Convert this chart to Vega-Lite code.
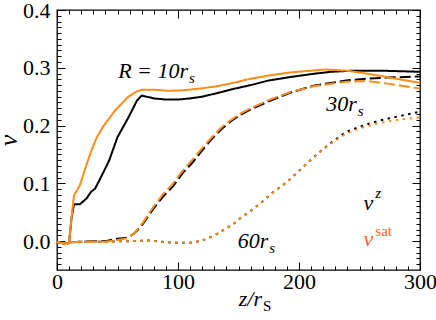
{
  "$schema": "https://vega.github.io/schema/vega-lite/v6.json",
  "width": 363,
  "height": 260,
  "autosize": {"type": "none"},
  "background": "white",
  "padding": {"left": 57, "top": 10, "right": 16, "bottom": 50},
  "config": {
    "view": {"stroke": "#000000", "strokeWidth": 1.3, "fill": "transparent"}
  },
  "datasets": {
    "curves": [
      {"R":10,"comp":"vz","z":0,"v":-0.002},{"R":10,"comp":"vz","z":5,"v":-0.003},{"R":10,"comp":"vz","z":8,"v":-0.005},{"R":10,"comp":"vz","z":10,"v":-0.003},{"R":10,"comp":"vz","z":12,"v":0.04},{"R":10,"comp":"vz","z":14,"v":0.064},{"R":10,"comp":"vz","z":19,"v":0.064},{"R":10,"comp":"vz","z":24.5,"v":0.074},{"R":10,"comp":"vz","z":28,"v":0.085},{"R":10,"comp":"vz","z":31.5,"v":0.091},{"R":10,"comp":"vz","z":35,"v":0.105},{"R":10,"comp":"vz","z":43,"v":0.139},{"R":10,"comp":"vz","z":50,"v":0.18},{"R":10,"comp":"vz","z":59,"v":0.214},{"R":10,"comp":"vz","z":66,"v":0.243},{"R":10,"comp":"vz","z":70,"v":0.252},{"R":10,"comp":"vz","z":74,"v":0.25},{"R":10,"comp":"vz","z":80,"v":0.247},{"R":10,"comp":"vz","z":90,"v":0.245},{"R":10,"comp":"vz","z":100,"v":0.245},{"R":10,"comp":"vz","z":110,"v":0.247},{"R":10,"comp":"vz","z":120,"v":0.25},{"R":10,"comp":"vz","z":132,"v":0.256},{"R":10,"comp":"vz","z":145,"v":0.263},{"R":10,"comp":"vz","z":160,"v":0.27},{"R":10,"comp":"vz","z":175,"v":0.278},{"R":10,"comp":"vz","z":193,"v":0.284},{"R":10,"comp":"vz","z":210,"v":0.289},{"R":10,"comp":"vz","z":226,"v":0.293},{"R":10,"comp":"vz","z":245,"v":0.295},{"R":10,"comp":"vz","z":267,"v":0.295},{"R":10,"comp":"vz","z":285,"v":0.294},{"R":10,"comp":"vz","z":300,"v":0.293},
      {"R":10,"comp":"vsat","z":0,"v":-0.002},{"R":10,"comp":"vsat","z":5,"v":-0.003},{"R":10,"comp":"vsat","z":8,"v":-0.005},{"R":10,"comp":"vsat","z":10,"v":-0.003},{"R":10,"comp":"vsat","z":12,"v":0.04},{"R":10,"comp":"vsat","z":14,"v":0.079},{"R":10,"comp":"vsat","z":19,"v":0.097},{"R":10,"comp":"vsat","z":24,"v":0.13},{"R":10,"comp":"vsat","z":29,"v":0.16},{"R":10,"comp":"vsat","z":33,"v":0.18},{"R":10,"comp":"vsat","z":38,"v":0.198},{"R":10,"comp":"vsat","z":48,"v":0.226},{"R":10,"comp":"vsat","z":59,"v":0.25},{"R":10,"comp":"vsat","z":65,"v":0.258},{"R":10,"comp":"vsat","z":70,"v":0.262},{"R":10,"comp":"vsat","z":81,"v":0.262},{"R":10,"comp":"vsat","z":92,"v":0.26},{"R":10,"comp":"vsat","z":104,"v":0.261},{"R":10,"comp":"vsat","z":118,"v":0.264},{"R":10,"comp":"vsat","z":132,"v":0.268},{"R":10,"comp":"vsat","z":146,"v":0.274},{"R":10,"comp":"vsat","z":160,"v":0.281},{"R":10,"comp":"vsat","z":176,"v":0.287},{"R":10,"comp":"vsat","z":193,"v":0.292},{"R":10,"comp":"vsat","z":210,"v":0.295},{"R":10,"comp":"vsat","z":222,"v":0.297},{"R":10,"comp":"vsat","z":239,"v":0.295},{"R":10,"comp":"vsat","z":253,"v":0.291},{"R":10,"comp":"vsat","z":267,"v":0.286},{"R":10,"comp":"vsat","z":283,"v":0.28},{"R":10,"comp":"vsat","z":300,"v":0.274},
      {"R":30,"comp":"vz","z":0,"v":-0.002},{"R":30,"comp":"vz","z":8,"v":-0.005},{"R":30,"comp":"vz","z":10,"v":-0.002},{"R":30,"comp":"vz","z":20,"v":-0.001},{"R":30,"comp":"vz","z":40,"v":0.0},{"R":30,"comp":"vz","z":50,"v":0.004},{"R":30,"comp":"vz","z":58,"v":0.006},{"R":30,"comp":"vz","z":63,"v":0.012},{"R":30,"comp":"vz","z":67,"v":0.02},{"R":30,"comp":"vz","z":71,"v":0.03},{"R":30,"comp":"vz","z":76,"v":0.045},{"R":30,"comp":"vz","z":80,"v":0.057},{"R":30,"comp":"vz","z":88,"v":0.078},{"R":30,"comp":"vz","z":96,"v":0.095},{"R":30,"comp":"vz","z":104,"v":0.118},{"R":30,"comp":"vz","z":112,"v":0.136},{"R":30,"comp":"vz","z":120,"v":0.157},{"R":30,"comp":"vz","z":128,"v":0.177},{"R":30,"comp":"vz","z":136,"v":0.194},{"R":30,"comp":"vz","z":144,"v":0.208},{"R":30,"comp":"vz","z":152,"v":0.219},{"R":30,"comp":"vz","z":160,"v":0.228},{"R":30,"comp":"vz","z":176,"v":0.243},{"R":30,"comp":"vz","z":193,"v":0.257},{"R":30,"comp":"vz","z":212,"v":0.269},{"R":30,"comp":"vz","z":239,"v":0.278},{"R":30,"comp":"vz","z":256,"v":0.281},{"R":30,"comp":"vz","z":272,"v":0.283},{"R":30,"comp":"vz","z":300,"v":0.285},
      {"R":30,"comp":"vsat","z":0,"v":-0.002},{"R":30,"comp":"vsat","z":8,"v":-0.005},{"R":30,"comp":"vsat","z":10,"v":-0.002},{"R":30,"comp":"vsat","z":20,"v":-0.001},{"R":30,"comp":"vsat","z":40,"v":-0.001},{"R":30,"comp":"vsat","z":50,"v":0.002},{"R":30,"comp":"vsat","z":58,"v":0.005},{"R":30,"comp":"vsat","z":63,"v":0.012},{"R":30,"comp":"vsat","z":67,"v":0.021},{"R":30,"comp":"vsat","z":71,"v":0.032},{"R":30,"comp":"vsat","z":76,"v":0.048},{"R":30,"comp":"vsat","z":80,"v":0.06},{"R":30,"comp":"vsat","z":88,"v":0.082},{"R":30,"comp":"vsat","z":96,"v":0.1},{"R":30,"comp":"vsat","z":104,"v":0.122},{"R":30,"comp":"vsat","z":112,"v":0.141},{"R":30,"comp":"vsat","z":120,"v":0.161},{"R":30,"comp":"vsat","z":128,"v":0.18},{"R":30,"comp":"vsat","z":136,"v":0.197},{"R":30,"comp":"vsat","z":144,"v":0.21},{"R":30,"comp":"vsat","z":152,"v":0.221},{"R":30,"comp":"vsat","z":160,"v":0.23},{"R":30,"comp":"vsat","z":176,"v":0.245},{"R":30,"comp":"vsat","z":193,"v":0.258},{"R":30,"comp":"vsat","z":212,"v":0.268},{"R":30,"comp":"vsat","z":239,"v":0.276},{"R":30,"comp":"vsat","z":256,"v":0.277},{"R":30,"comp":"vsat","z":272,"v":0.273},{"R":30,"comp":"vsat","z":300,"v":0.264},
      {"R":60,"comp":"vz","z":0,"v":-0.002},{"R":60,"comp":"vz","z":8,"v":-0.005},{"R":60,"comp":"vz","z":10,"v":-0.002},{"R":60,"comp":"vz","z":20,"v":-0.001},{"R":60,"comp":"vz","z":40,"v":-0.001},{"R":60,"comp":"vz","z":60,"v":0.0},{"R":60,"comp":"vz","z":77,"v":0.001},{"R":60,"comp":"vz","z":90,"v":-0.002},{"R":60,"comp":"vz","z":100,"v":-0.003},{"R":60,"comp":"vz","z":110,"v":-0.003},{"R":60,"comp":"vz","z":118,"v":0.0},{"R":60,"comp":"vz","z":124,"v":0.004},{"R":60,"comp":"vz","z":132,"v":0.012},{"R":60,"comp":"vz","z":139,"v":0.021},{"R":60,"comp":"vz","z":146,"v":0.03},{"R":60,"comp":"vz","z":151,"v":0.039},{"R":60,"comp":"vz","z":160,"v":0.052},{"R":60,"comp":"vz","z":170,"v":0.069},{"R":60,"comp":"vz","z":180,"v":0.087},{"R":60,"comp":"vz","z":190,"v":0.102},{"R":60,"comp":"vz","z":206,"v":0.133},{"R":60,"comp":"vz","z":212,"v":0.145},{"R":60,"comp":"vz","z":225,"v":0.168},{"R":60,"comp":"vz","z":239,"v":0.189},{"R":60,"comp":"vz","z":253,"v":0.2},{"R":60,"comp":"vz","z":267,"v":0.209},{"R":60,"comp":"vz","z":282,"v":0.216},{"R":60,"comp":"vz","z":300,"v":0.224},
      {"R":60,"comp":"vsat","z":0,"v":-0.002},{"R":60,"comp":"vsat","z":8,"v":-0.005},{"R":60,"comp":"vsat","z":10,"v":-0.002},{"R":60,"comp":"vsat","z":20,"v":-0.001},{"R":60,"comp":"vsat","z":40,"v":-0.001},{"R":60,"comp":"vsat","z":60,"v":0.0},{"R":60,"comp":"vsat","z":77,"v":0.001},{"R":60,"comp":"vsat","z":90,"v":-0.002},{"R":60,"comp":"vsat","z":100,"v":-0.003},{"R":60,"comp":"vsat","z":110,"v":-0.003},{"R":60,"comp":"vsat","z":118,"v":0.0},{"R":60,"comp":"vsat","z":124,"v":0.004},{"R":60,"comp":"vsat","z":132,"v":0.012},{"R":60,"comp":"vsat","z":139,"v":0.021},{"R":60,"comp":"vsat","z":146,"v":0.03},{"R":60,"comp":"vsat","z":151,"v":0.039},{"R":60,"comp":"vsat","z":160,"v":0.052},{"R":60,"comp":"vsat","z":170,"v":0.069},{"R":60,"comp":"vsat","z":180,"v":0.087},{"R":60,"comp":"vsat","z":190,"v":0.102},{"R":60,"comp":"vsat","z":206,"v":0.133},{"R":60,"comp":"vsat","z":212,"v":0.145},{"R":60,"comp":"vsat","z":225,"v":0.167},{"R":60,"comp":"vsat","z":239,"v":0.186},{"R":60,"comp":"vsat","z":253,"v":0.197},{"R":60,"comp":"vsat","z":267,"v":0.205},{"R":60,"comp":"vsat","z":282,"v":0.21},{"R":60,"comp":"vsat","z":300,"v":0.214}
    ],
    "labels": [
      {"z":108.3,"v":0.283,"base":"R = 10r","low":"s","up":"","comp":"vz"},
      {"z":247.7,"v":0.226,"base":"30r","low":"s","up":"","comp":"vz"},
      {"z":174.6,"v":-0.012,"base":"60r","low":"s","up":"","comp":"vz"},
      {"z":261.4,"v":0.053,"base":"v","low":"","up":"z","comp":"vz"},
      {"z":261.4,"v":-0.008,"base":"v","low":"","up":"sat","comp":"vsat"},
      {"z":169.4,"v":-0.113,"base":"z/r","low":"S","up":"","comp":"vz"}
    ]
  },
  "resolve": {"axis": {"x": "independent", "y": "independent"}},
  "layer": [
    {
      "data": {"name": "curves"},
      "transform": [{"filter": "datum.comp === 'vz'"}],
      "mark": {"type": "line", "strokeWidth": 2, "color": "#000000"},
      "encoding": {
        "x": {"field": "z", "type": "quantitative", "scale": {"domain": [0, 300], "nice": false, "zero": false},
          "axis": {"orient": "bottom", "title": null, "values": [0, 100, 200, 300], "format": "d", "domain": false, "ticks": false,
            "grid": true, "gridColor": "#000000", "gridOpacity": 1, "gridWidth": 1, "gridDash": [8, 244, 8, 0],
            "labelFont": "Liberation Serif", "labelColor": "#000000", "labelFontSize": 22, "labelPadding": 1, "labelFlush": false}},
        "y": {"field": "v", "type": "quantitative", "scale": {"domain": [-0.05, 0.4], "nice": false, "zero": false},
          "axis": {"orient": "left", "title": "v", "titleFont": "Liberation Serif", "titleFontStyle": "italic", "titleColor": "#000000", "titleFontSize": 26, "titleFontWeight": "normal", "titlePadding": 1,
            "values": [0, 0.1, 0.2, 0.3, 0.4], "format": ".1f", "domain": false, "ticks": false,
            "grid": true, "gridColor": "#000000", "gridOpacity": 1, "gridWidth": 1, "gridDash": [8, 347, 8, 0],
            "labelFont": "Liberation Serif", "labelColor": "#000000", "labelFontSize": 22, "labelPadding": 7, "labelFlush": false}},
        "strokeDash": {"field": "R", "type": "nominal", "legend": null,
          "scale": {"domain": [10, 30, 60], "range": [[1, 0], [11, 4], [2.5, 4.5]]}},
        "detail": {"field": "R", "type": "nominal"}
      }
    },
    {
      "data": {"name": "curves"},
      "transform": [{"filter": "datum.comp === 'vsat'"}],
      "mark": {"type": "line", "strokeWidth": 2, "color": "#ff8c1a"},
      "encoding": {
        "x": {"field": "z", "type": "quantitative",
          "axis": {"orient": "bottom", "title": null, "labels": false, "domain": false, "ticks": false,
            "grid": true, "gridColor": "#000000", "gridOpacity": 1, "gridWidth": 1, "gridDash": [4, 252, 4, 0],
            "values": [10,20,30,40,50,60,70,80,90,110,120,130,140,150,160,170,180,190,210,220,230,240,250,260,270,280,290]}},
        "y": {"field": "v", "type": "quantitative",
          "axis": {"orient": "left", "title": null, "labels": false, "domain": false, "ticks": false,
            "grid": true, "gridColor": "#000000", "gridOpacity": 1, "gridWidth": 1, "gridDash": [4, 355, 4, 0],
            "values": [-0.04,-0.03,-0.02,-0.01,0.01,0.02,0.03,0.04,0.05,0.06,0.07,0.08,0.09,0.11,0.12,0.13,0.14,0.15,0.16,0.17,0.18,0.19,0.21,0.22,0.23,0.24,0.25,0.26,0.27,0.28,0.29,0.31,0.32,0.33,0.34,0.35,0.36,0.37,0.38,0.39]}},
        "strokeDash": {"field": "R", "type": "nominal", "legend": null,
          "scale": {"domain": [10, 30, 60], "range": [[1, 0], [11, 4], [2.5, 4.5]]}},
        "detail": {"field": "R", "type": "nominal"}
      }
    },
    {
      "data": {"name": "labels"},
      "mark": {"type": "text", "align": "right", "baseline": "alphabetic", "fontSize": 22, "font": "Liberation Serif", "fontStyle": "italic"},
      "encoding": {
        "x": {"field": "z", "type": "quantitative", "axis": null},
        "y": {"field": "v", "type": "quantitative", "axis": null},
        "text": {"field": "base"},
        "color": {"condition": {"test": "datum.comp === 'vsat'", "value": "#ff6128"}, "value": "#000000"}
      }
    },
    {
      "data": {"name": "labels"},
      "transform": [{"filter": "datum.low === 's'"}],
      "mark": {"type": "text", "align": "left", "baseline": "alphabetic", "fontSize": 15, "dx": 1, "dy": 5, "font": "Liberation Serif", "fontStyle": "italic"},
      "encoding": {
        "x": {"field": "z", "type": "quantitative", "axis": null},
        "y": {"field": "v", "type": "quantitative", "axis": null},
        "text": {"field": "low"},
        "color": {"value": "#000000"}
      }
    },
    {
      "data": {"name": "labels"},
      "transform": [{"filter": "datum.low === 'S'"}],
      "mark": {"type": "text", "align": "left", "baseline": "alphabetic", "fontSize": 15, "dx": 1, "dy": 5, "font": "Liberation Serif"},
      "encoding": {
        "x": {"field": "z", "type": "quantitative", "axis": null},
        "y": {"field": "v", "type": "quantitative", "axis": null},
        "text": {"field": "low"},
        "color": {"value": "#000000"}
      }
    },
    {
      "data": {"name": "labels"},
      "transform": [{"filter": "datum.up === 'z'"}],
      "mark": {"type": "text", "align": "left", "baseline": "alphabetic", "fontSize": 15, "dx": 2, "dy": -12, "font": "Liberation Serif", "fontStyle": "italic"},
      "encoding": {
        "x": {"field": "z", "type": "quantitative", "axis": null},
        "y": {"field": "v", "type": "quantitative", "axis": null},
        "text": {"field": "up"},
        "color": {"value": "#000000"}
      }
    },
    {
      "data": {"name": "labels"},
      "transform": [{"filter": "datum.up === 'sat'"}],
      "mark": {"type": "text", "align": "left", "baseline": "alphabetic", "fontSize": 15, "dx": 2, "dy": -10, "font": "Liberation Serif"},
      "encoding": {
        "x": {"field": "z", "type": "quantitative", "axis": null},
        "y": {"field": "v", "type": "quantitative", "axis": null},
        "text": {"field": "up"},
        "color": {"value": "#ff6128"}
      }
    }
  ]
}
